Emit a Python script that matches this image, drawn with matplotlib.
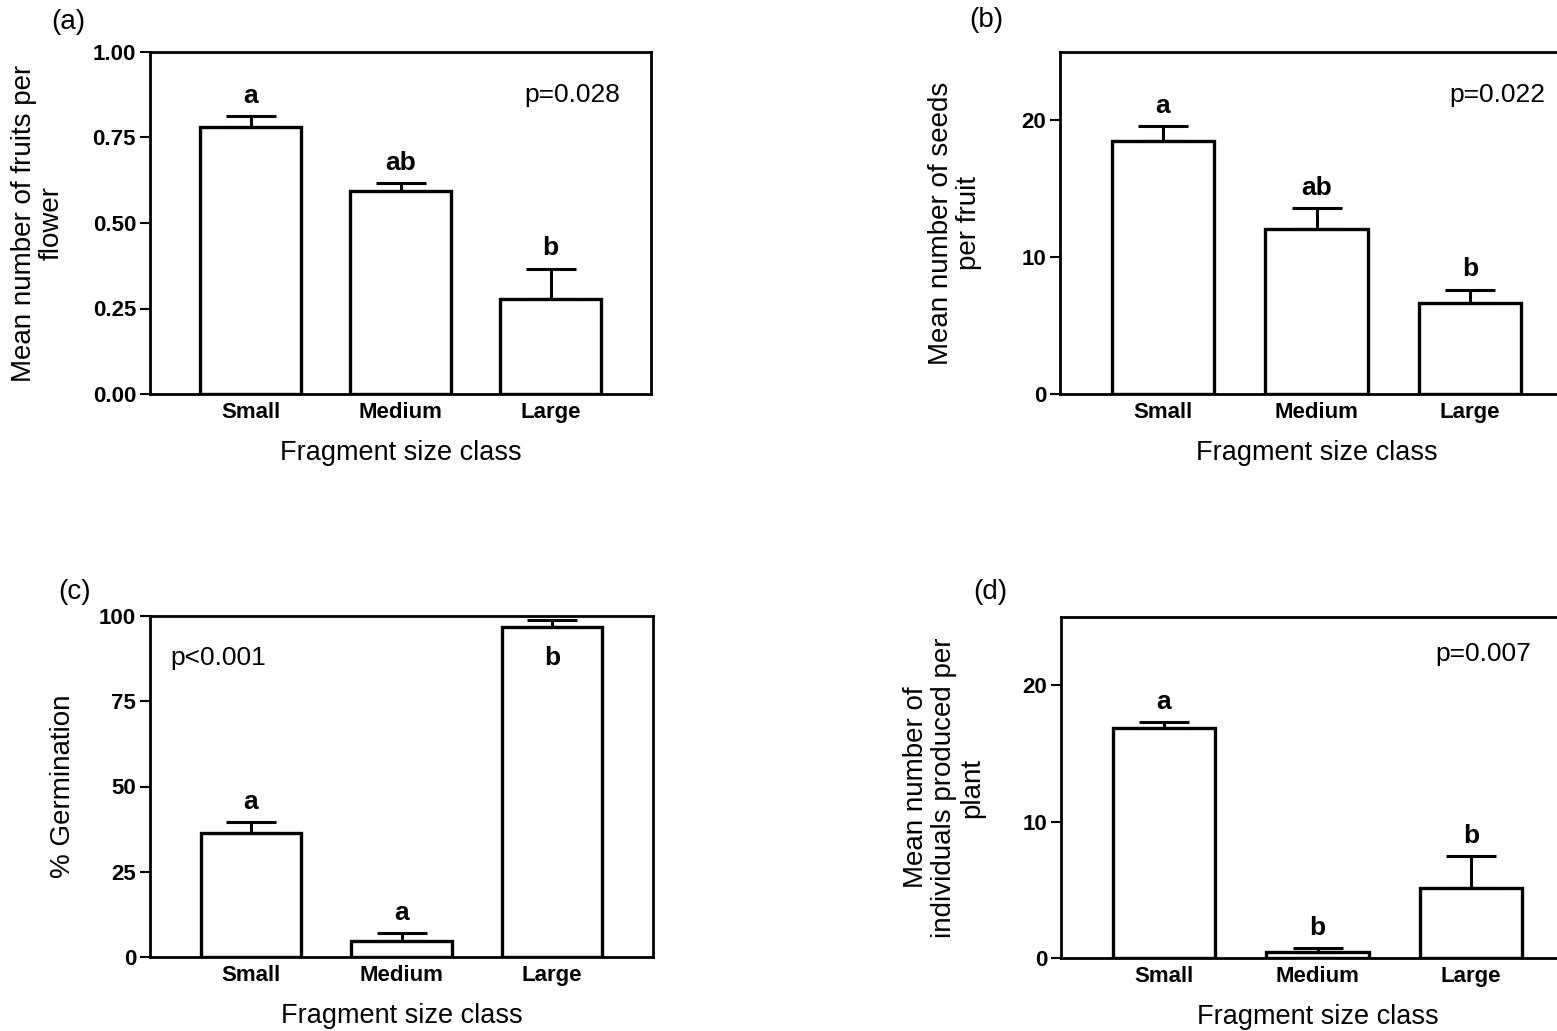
import matplotlib
matplotlib.use('Agg')
import matplotlib.pyplot as plt
import numpy as np

plt.rcParams['font.family'] = ['Liberation Sans', 'DejaVu Sans']

size_classes = ['Small', 'Medium', 'Large']

# (a) fruits per flower
fruits_mean = [0.78, 0.594, 0.278]
fruits_se = [0.032, 0.023, 0.088]
fruits_letters = ['a', 'ab', 'b']

# (b) seeds per fruit
seeds_mean = [18.46, 12.09, 6.67]
seeds_se = [1.1, 1.5, 0.95]
seeds_letters = ['a', 'ab', 'b']

# (c) % germination
germ_mean = [36.4, 4.7, 96.8]
germ_se = [3.2, 2.3, 2.0]
germ_letters = ['a', 'a', 'b']

# (d) individuals produced per plant
indiv_mean = [16.85, 0.44, 5.13]
indiv_se = [0.45, 0.29, 2.34]
indiv_letters = ['a', 'b', 'b']

W, H = 1557, 1031
fig = plt.figure(figsize=(W / 100, H / 100), dpi=100)


def px_axes(l, t, r, b):
    return fig.add_axes([l / W, 1 - b / H, (r - l) / W, (b - t) / H])


def panel(ax, means, ses, letters, ymax, yticks, ylabel, label_x, ptext, pxy, tick_fmt):
    x = np.arange(len(size_classes))
    ax.bar(x, means, width=0.667, color='white', edgecolor='black', linewidth=2.4, zorder=2)
    ax.errorbar(x, means, yerr=[np.zeros(len(ses)), ses], fmt='none', ecolor='black',
                elinewidth=2.2, capsize=18, capthick=2.2, zorder=3)
    ax.set_xlim(-0.67, 2.67)
    ax.set_ylim(0, ymax)
    ax.set_yticks(yticks)
    ax.set_yticklabels([tick_fmt.format(t) for t in yticks], fontsize=16, fontweight='bold')
    ax.set_xticks(x)
    ax.set_xticklabels(size_classes, fontsize=16, fontweight='bold')
    ax.tick_params(axis='x', length=0, pad=6)
    ax.tick_params(axis='y', length=7, width=1.5, pad=3, direction='out')
    for s in ax.spines.values():
        s.set_linewidth(2)
    ax.set_xlabel('Fragment size class', fontsize=19.5, labelpad=12)
    ax.set_ylabel(ylabel, fontsize=20, linespacing=1.1)
    ax.yaxis.set_label_coords(label_x, 0.5)
    for xi, m, se, lt in zip(x, means, ses, letters):
        top = m + se
        if top > 0.85 * ymax:
            ax.text(xi, 0.877, lt, transform=ax.get_xaxis_transform(), ha='center',
                    va='center', fontsize=19, fontweight='bold')
        else:
            ax.annotate(lt, (xi, top), xytext=(0, 6), textcoords='offset points',
                        ha='center', va='bottom', fontsize=19, fontweight='bold')
    ax.text(pxy[0], pxy[1], ptext, transform=ax.transAxes, ha='center', va='center',
            fontsize=19)


ax_a = px_axes(150, 52, 651, 394)
panel(ax_a, fruits_mean, fruits_se, fruits_letters, 1.0, [0, 0.25, 0.5, 0.75, 1.0],
      'Mean number of fruits per\nflower', -0.17, 'p=0.028', (0.842, 0.874), '{:.2f}')

ax_b = px_axes(1060, 52, 1573, 394)
panel(ax_b, seeds_mean, seeds_se, seeds_letters, 25, [0, 10, 20],
      'Mean number of seeds\nper fruit', -0.152, 'p=0.022', (0.852, 0.874), '{:d}')

ax_c = px_axes(150, 616, 653, 957)
panel(ax_c, germ_mean, germ_se, germ_letters, 100, [0, 25, 50, 75, 100],
      '% Germination', -0.147, 'p<0.001', (0.135, 0.877), '{:d}')

ax_d = px_axes(1061, 617, 1574, 958)
panel(ax_d, indiv_mean, indiv_se, indiv_letters, 25, [0, 10, 20],
      'Mean number of\nindividuals produced per\nplant', -0.148, 'p=0.007', (0.823, 0.891), '{:d}')

for lbl, (fx, fy) in zip(['(a)', '(b)', '(c)', '(d)'],
                         [(68, 22), (986, 20), (75, 592), (990, 592)]):
    fig.text(fx / W, 1 - fy / H, lbl, ha='center', va='center', fontsize=20)

fig.savefig('out.png', dpi=100, facecolor='white')
